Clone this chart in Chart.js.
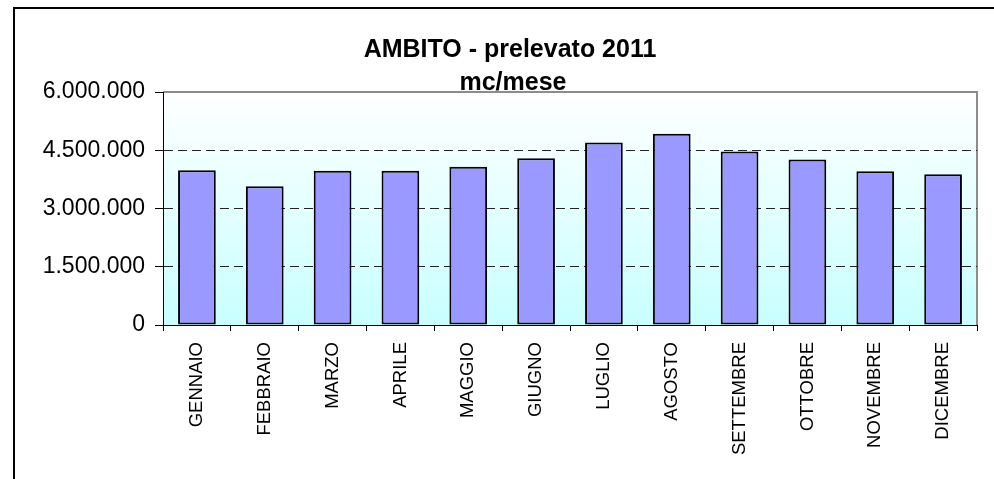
<!DOCTYPE html>
<html>
<head>
<meta charset="utf-8">
<script src="https://cdn.jsdelivr.net/npm/chart.js@4"></script>
<style>
    html, body { margin: 0; padding: 0; background: #fff; }
    #wrap { width: 994px; height: 479px; position: relative; }
</style>
</head>
<body>
<div id="wrap"><canvas id="prelevatoChart"></canvas></div>
<script>
const mesi = ['GENNAIO', 'FEBBRAIO', 'MARZO', 'APRILE', 'MAGGIO', 'GIUGNO', 'LUGLIO', 'AGOSTO', 'SETTEMBRE', 'OTTOBRE', 'NOVEMBRE', 'DICEMBRE'];
const prelevato = [3985000, 3572000, 3970000, 3970000, 4073000, 4296000, 4700000, 4925000, 4468000, 4262000, 3960000, 3882000];
const titolo = ['AMBITO - prelevato 2011', 'mc/mese'];
const yMin = 0;
const yMax = 6000000;
const yStep = 1500000;

const fontFamily = '"Liberation Sans", Arial, sans-serif';

function formatIt(v) {
    return String(v).replace(/\B(?=(\d{3})+(?!\d))/g, '.');
}

// frame, plot background and title
const excelLook = {
    id: 'excelLook',
    beforeDraw(chart) {
        const { ctx, chartArea: { left, top, right, bottom } } = chart;
        ctx.save();
        // outer frame (only top and left edges are visible)
        ctx.strokeStyle = '#000';
        ctx.lineWidth = 2;
        ctx.beginPath();
        ctx.moveTo(14, chart.height + 5);
        ctx.lineTo(14, 8);
        ctx.lineTo(chart.width + 5, 8);
        ctx.stroke();

        // plot area gradient
        let gradient = ctx.createLinearGradient(0, top, 0, bottom);
        gradient.addColorStop(0, '#ffffff');
        gradient.addColorStop(1, '#c8ffff');
        ctx.fillStyle = gradient;
        ctx.fillRect(left, top, right - left, bottom - top);

        ctx.strokeStyle = '#8c8c8c';
        ctx.lineWidth = 2;
        ctx.beginPath();
        ctx.moveTo(left, top);
        ctx.lineTo(right, top);
        ctx.lineTo(right, bottom);
        ctx.stroke();
        ctx.restore();
    },
    afterDraw(chart) {
        const { ctx } = chart;
        ctx.save();
        ctx.fillStyle = '#000';
        ctx.font = 'bold 25px ' + fontFamily;
        ctx.textAlign = 'center';
        ctx.textBaseline = 'alphabetic';
        ctx.fillText(titolo[0], 510, 57);
        ctx.fillText(titolo[1], 513, 90);
        ctx.restore();
    }
};

const ctx = document.getElementById('prelevatoChart').getContext('2d');

new Chart(ctx, {
    type: 'bar',
    data: {
        labels: mesi,
        datasets: [{
            label: 'prelevato',
            data: prelevato,
            backgroundColor: '#9999ff',
            borderColor: '#000',
            borderWidth: 2,
            borderSkipped: false,
            barPercentage: 0.556,
            categoryPercentage: 1
        }]
    },
    options: {
        responsive: true,
        maintainAspectRatio: false,
        animation: false,
        layout: {
            padding: { left: 0, top: 92, right: 17, bottom: 0 }
        },
        scales: {
            y: {
                min: yMin,
                max: yMax,
                ticks: {
                    stepSize: yStep,
                    color: '#000',
                    padding: 10,
                    font: { family: fontFamily, size: 23 },
                    callback: function (value) {
                        return formatIt(value);
                    }
                },
                grid: {
                    color: function (context) {
                        let v = context.tick ? context.tick.value : null;
                        return (v === yMin || v === yMax) ? 'rgba(0,0,0,0)' : '#222';
                    },
                    tickColor: '#000',
                    tickLength: 8,
                    lineWidth: 1
                },
                border: {
                    color: '#000',
                    width: 1,
                    dash: [9, 5]
                },
                afterFit: function (scale) {
                    scale.width = 163;
                }
            },
            x: {
                ticks: {
                    color: '#000',
                    maxRotation: 90,
                    minRotation: 90,
                    padding: 11,
                    autoSkip: false,
                    font: { family: fontFamily, size: 18.5 }
                },
                grid: {
                    offset: true,
                    drawOnChartArea: false,
                    tickColor: '#000',
                    tickLength: 6
                },
                border: {
                    color: '#000',
                    width: 1
                },
                afterFit: function (scale) {
                    scale.height = 154;
                }
            }
        },
        plugins: {
            legend: { display: false },
            title: { display: false },
            tooltip: { enabled: false }
        }
    },
    plugins: [excelLook]
});
</script>
</body>
</html>
